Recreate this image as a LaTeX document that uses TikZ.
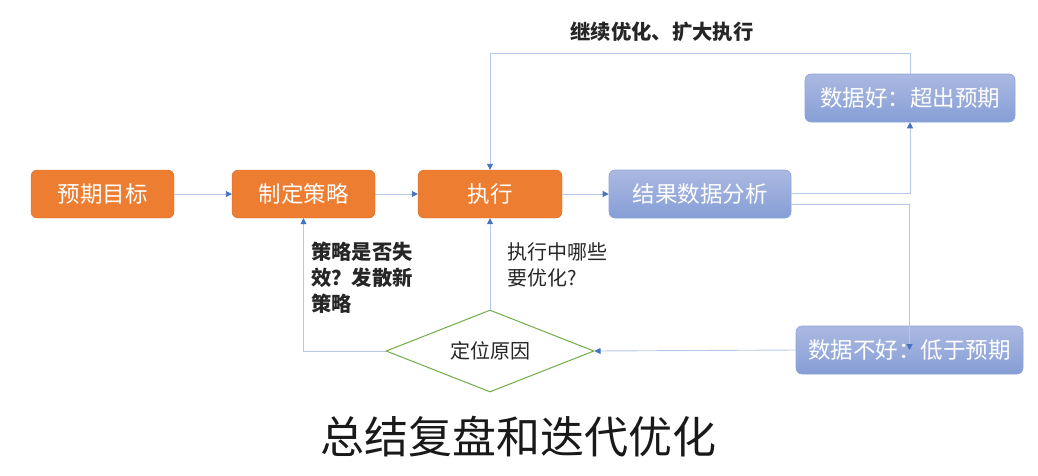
\documentclass[tikz,border=0pt]{standalone}
\usepackage{fontspec}
\setmainfont{Noto Sans CJK SC}
\usetikzlibrary{arrows.meta,shapes.geometric}
\definecolor{orng}{HTML}{ED7D31}
\definecolor{btop}{HTML}{ABB9E1}
\definecolor{bbot}{HTML}{869ED6}
\definecolor{bedge}{HTML}{8EA4D8}
\definecolor{lineblue}{HTML}{B4C7E7}
\definecolor{tipblue}{HTML}{4472C4}
\definecolor{dgreen}{HTML}{70AD47}
\tikzset{
  obox/.style={fill=orng, draw=orng!90!black, line width=0.4pt, rounded corners=6pt, text=white, inner sep=0pt, minimum height=48pt, font=\fontsize{22.5}{25}\selectfont},
  bbox/.style={top color=btop, bottom color=bbot, draw=bedge, line width=0.6pt, rounded corners=6pt, text=white, inner sep=0pt, minimum height=48pt, font=\fontsize{22.5}{25}\selectfont},
  conn/.style={draw=lineblue, line width=0.9pt, -{Triangle[length=6pt,width=6pt,color=tipblue]}},
  lbl/.style={inner sep=0pt, text=black!85, font=\fontsize{20}{26}\selectfont},
}
\begin{document}
\begin{tikzpicture}[x=1pt,y=-1pt]
\useasboundingbox (0,0) rectangle (1038,475);
% nodes
\node[obox, minimum width=143pt] (goal) at (102.5,194) {预期目标};
\node[obox, minimum width=143pt] (strat) at (303.5,194) {制定策略};
\node[obox, minimum width=144pt] (exe) at (490,194) {执行};
\node[bbox, minimum width=182pt] (res) at (700,194) {结果数据分析};
\node[bbox, minimum width=210pt] (good) at (910,98) {数据好：超出预期};
\node[bbox, minimum width=227pt] (bad) at (909.5,350) {数据不好：低于预期};
\node[diamond, aspect=2.5, draw=dgreen, line width=1pt, fill=white, inner sep=0pt, minimum width=208pt, minimum height=82pt, font=\fontsize{20}{22}\selectfont, text=black!85] (dia) at (490,351) {定位原因};
% connectors
\draw[conn] (goal) -- (strat);
\draw[conn] (strat) -- (exe);
\draw[conn] (exe) -- (res);
\draw[conn] ([yshift=1pt]res.east) -| (good.south);
\draw[conn] ([yshift=-10pt]res.east) -| (bad.center);
\draw[conn] (good.north) -- ++(0,-20) -| (exe.north);
\draw[conn] (bad.west) -- (dia.east);
\draw[conn] (dia.west) -| (strat.south);
\draw[conn] (dia.north) -- (exe.south);
% labels
\node[lbl, font=\fontsize{20.3}{26}\selectfont\bfseries] (top) at (662,32) {继续优化、扩大执行};
\node[lbl, anchor=north west, align=left, font=\fontsize{20.3}{26}\selectfont\bfseries] (l1) at (311,242) {策略是否失\\效？发散新\\策略};
\node[lbl, anchor=north west, align=left] (l2) at (507,242) {执行中哪些\\要优化?};
\node[inner sep=0pt, text=black!90, font=\fontsize{44}{48}\selectfont] (title) at (518,437) {总结复盘和迭代优化};
\end{tikzpicture}
\end{document}
